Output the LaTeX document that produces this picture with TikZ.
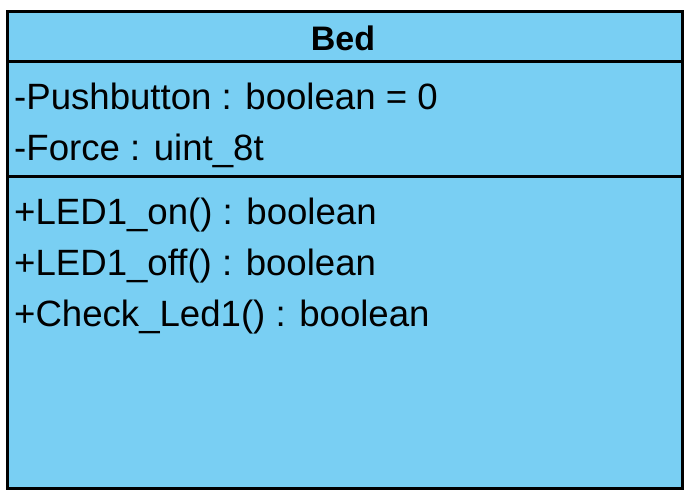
\documentclass[tikz,border=0pt]{standalone}
\usepackage{fontspec}
\setmainfont{Liberation Sans}
\usetikzlibrary{positioning}
\definecolor{classblue}{RGB}{121,207,243}
\tikzset{
classbox/.style={draw,line width=3pt,fill=classblue,rectangle,inner sep=0pt,outer sep=0pt,anchor=north west},
divider/.style={line width=3pt},
member/.style={anchor=base west,inner sep=0pt,font=\fontsize{36.6}{51}\selectfont},
classname/.style={anchor=base,inner sep=0pt,font=\fontsize{34}{40}\selectfont\bfseries}
}

\begin{document}
\begin{tikzpicture}[x=1pt,y=-1pt]
\useasboundingbox (0,0) rectangle (697,502);
\node[classbox,minimum width=675pt,minimum height=477.5pt] (bed) at (7.5,11.5) {};
\node[classname] (name) at (343,51) {Bed};

\draw[divider] (bed.west |- 0,62) -- (bed.east |- 0,62);
\draw[divider] (bed.west |- 0,177) -- (bed.east |- 0,177);

% attributes
\node[member] (push) at (14,110) {-Pushbutton : boolean = 0};
\node[member] (force) at (14,161) {-Force : uint\_8t};

% operations
\node[member] (ledon) at (14,225) {+LED1\_on() : boolean};
\node[member] (ledoff) at (14,276) {+LED1\_off() : boolean};
\node[member] (check) at (14,327) {+Check\_Led1() : boolean};
\end{tikzpicture}
\end{document}
